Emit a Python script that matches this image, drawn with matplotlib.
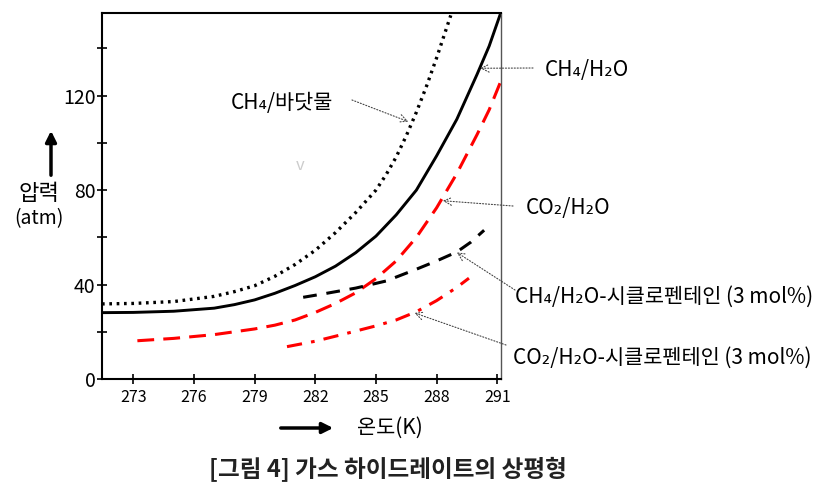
import matplotlib
matplotlib.use("Agg")
import matplotlib.pyplot as plt

plt.rcParams['font.family'] = ['Noto Sans CJK KR', 'DejaVu Sans']

# temperatures (K) and pressures (atm)
t_ch4_water = [271.45, 273, 275, 277, 278, 279, 280, 281, 282, 283, 284, 285, 286, 287, 288, 289, 290, 290.6, 291.17]
p_ch4_water = [28.1, 28.2, 28.7, 30.0, 31.5, 33.5, 36.3, 39.6, 43.3, 47.8, 53.5, 60.5, 69.5, 80.0, 94.5, 110.0, 129.0, 141.0, 155]

t_ch4_sea = [271.45, 273, 275, 277, 278, 279, 280, 281, 282, 283, 284, 285, 285.5, 286, 286.5, 287, 287.5, 288, 288.7]
p_ch4_sea = [31.8, 32.0, 32.8, 35.0, 37.0, 39.5, 43.5, 48.5, 54.5, 62.0, 70.5, 80.0, 86.5, 94.0, 103.0, 113.0, 124.0, 136.0, 154.0]

t_co2_water = [273.2, 275, 277, 279, 280, 281, 282, 283, 284, 285, 286, 287, 288, 289, 290, 290.6, 291.17]
p_co2_water = [16.2, 17.2, 18.8, 21.2, 22.8, 25.0, 28.2, 32.0, 36.5, 42.5, 50.0, 60.0, 72.5, 87.0, 103.5, 114.0, 126.0]

t_ch4_cp = [281.4, 282.5, 284, 285.5, 287, 288, 289, 289.7, 290.35]
p_ch4_cp = [34.6, 36.2, 38.5, 41.5, 46.5, 50.0, 53.8, 58.0, 63.0]

t_co2_cp = [280.6, 282, 283.5, 285, 286, 287, 288, 289, 289.6]
p_co2_cp = [13.7, 16.0, 19.2, 22.5, 25.0, 28.5, 33.2, 38.8, 42.7]

x_ticks = [273, 276, 279, 282, 285, 288, 291]
y_ticks = [0, 40, 80, 120]
y_minor = [20, 60, 100, 140]

W, H = 831, 493


def px(x, y):
    # pixel position (from top-left) -> figure fraction
    return (x / W, 1 - y / H)


fig = plt.figure(figsize=(W / 100, H / 100), dpi=100)
ax = fig.add_axes([102 / W, 1 - 379 / H, (500.7 - 102) / W, (379 - 13) / H])

ax.plot(t_ch4_sea, p_ch4_sea, color='black', lw=2.4, linestyle=(0, (0.8, 1.4)))
ax.plot(t_ch4_water, p_ch4_water, color='black', lw=2.1)
ax.plot(t_co2_water, p_co2_water, color='red', lw=2.2, linestyle=(0, (5.5, 3)))
ax.plot(t_ch4_cp, p_ch4_cp, color='black', lw=2.2, linestyle=(0, (4.5, 3.2)))
ax.plot(t_co2_cp, p_co2_cp, color='red', lw=2.2, linestyle=(0, (5, 3, 1.2, 3)))

ax.set_xlim(271.45, 291.17)
ax.set_ylim(0, 155)
ax.set_xticks(x_ticks)
ax.set_yticks(y_ticks)
ax.set_yticks(y_minor, minor=True)
ax.tick_params(axis='x', direction='inout', length=7, width=1.2, labelsize=11.5, pad=4)
ax.tick_params(axis='y', which='both', direction='inout', length=7, width=1.2, labelsize=14, pad=1)
for side in ['left', 'bottom', 'top']:
    ax.spines[side].set_linewidth(1.5)
ax.spines['right'].set_linewidth(1.0)
ax.spines['right'].set_color('#555555')

# faint mark left in the picture
fig.text(*px(300, 166), 'v', color='#cccccc', fontsize=12, ha='center', va='center')

arrow = dict(arrowstyle='->', color='#444444', lw=0.8, linestyle=':',
             shrinkA=0, shrinkB=0, mutation_scale=14)

labels = [
    ('CH₄/바닷물', (231, 103), (352, 100), (286.6, 109)),
    ('CH₄/H₂O', (545, 70), (533, 68), (290.15, 131.6)),
    ('CO₂/H₂O', (526, 208), (513, 206), (288.3, 75.5)),
    ('CH₄/H₂O-시클로펜테인 (3 mol%)', (515, 297), (515, 290), (289.0, 53.6)),
    ('CO₂/H₂O-시클로펜테인 (3 mol%)', (513, 358), (506, 345), (286.9, 28.0)),
]
for text, tpos, tail, head in labels:
    fig.text(*px(*tpos), text, fontsize=15, ha='left', va='center')
    ax.annotate('', xy=head, xycoords='data', xytext=px(*tail),
                textcoords='figure fraction', arrowprops=arrow)

# axis captions with thick arrows
fig.text(*px(39, 193), '압력', fontsize=16, ha='center', va='center')
fig.text(*px(39, 219), '(atm)', fontsize=14, ha='center', va='center')
ax.annotate('', xy=px(51, 128), xycoords='figure fraction', xytext=px(51, 178),
            textcoords='figure fraction',
            arrowprops=dict(arrowstyle='-|>', color='black', lw=2.5, mutation_scale=16))
fig.text(*px(357, 428), '온도(K)', fontsize=15, ha='left', va='center')
ax.annotate('', xy=px(336, 428), xycoords='figure fraction', xytext=px(278, 428),
            textcoords='figure fraction',
            arrowprops=dict(arrowstyle='-|>', color='black', lw=2.5, mutation_scale=16))

fig.text(*px(388, 470), '[그림 4] 가스 하이드레이트의 상평형', fontsize=17,
         fontweight='bold', ha='center', va='center', color='#222222')

fig.savefig('out.png', dpi=100)
